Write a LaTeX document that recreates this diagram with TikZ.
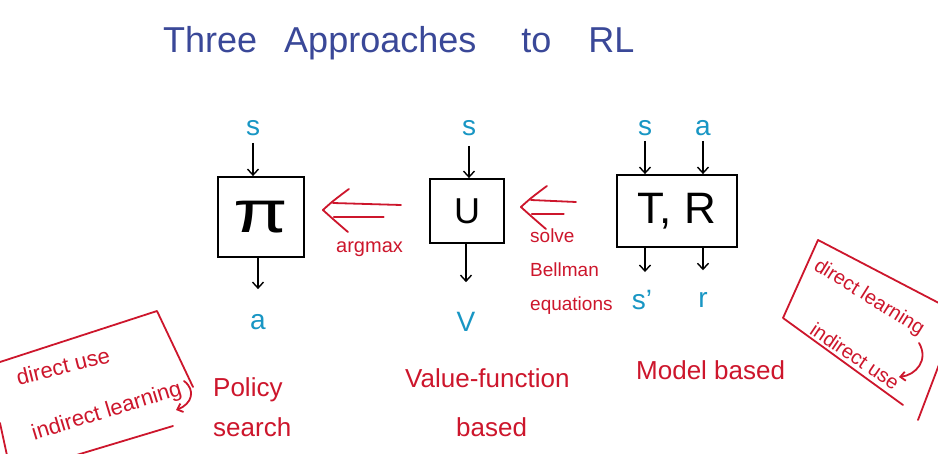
\documentclass[tikz,border=0pt]{standalone}
\usepackage{fontspec}
\setmainfont{Liberation Sans}
\usetikzlibrary{arrows.meta,calc}
\definecolor{titleblue}{RGB}{58,72,152}
\definecolor{inkred}{RGB}{205,22,44}
\definecolor{inkcyan}{RGB}{24,150,196}
% hand-drawn style double arrow: #1 tip coordinate, #2 length
\newcommand\redimplies[2]{%
  \draw[redink] ($(#1)+(26,-21)$) .. controls ($(#1)+(10,-9)$) .. (#1)
     .. controls ($(#1)+(10,9)$) .. ($(#1)+(25,22)$);
  \draw[redink] ($(#1)+(10,-7)$) -- ($(#1)+(#2,-5)$);
  \draw[redink] ($(#1)+(11,7)$) -- ($(#1)+(#2*0.78,7)$);
}
\begin{document}
\begin{tikzpicture}[x=1pt,y=-1pt,
  box/.style={draw=black,line width=1.8pt,inner sep=0pt},
  cyanlab/.style={text=inkcyan,font=\fontsize{28}{28}\selectfont,inner sep=0pt},
  redlab/.style={text=inkred,font=\fontsize{26}{30}\selectfont,inner sep=0pt,anchor=base west},
  boxtxt/.style={text=inkred,font=\fontsize{22}{26}\selectfont,inner sep=0pt},
  flow/.style={draw=black,line width=1.4pt,-{Straight Barb[length=6pt,width=11pt]}},
  redink/.style={draw=inkred,line width=1.8pt,line cap=round,line join=round},
]
\useasboundingbox (0,0) rectangle (938,454);
\fill[white] (0,0) rectangle (938,454);

% title
\node[anchor=base west,inner sep=0pt,text=titleblue,font=\fontsize{36}{40}\selectfont] (title) at (163,53)
  {Three\hspace{27pt}Approaches\hspace{45pt}to\hspace{37pt}RL};

% boxes
\node[box,minimum width=86pt,minimum height=80pt] (pibox) at (261,217)
  {\fontsize{44}{44}\selectfont\scalebox{1.8}[1.35]{π}};
\node[box,minimum width=74pt,minimum height=64pt,font=\fontsize{36}{36}\selectfont] (ubox) at (467,211) {U};
\node[box,minimum width=120pt,minimum height=72pt,font=\fontsize{44}{44}\selectfont] (mbox) at (677,211) {T, R};

% cyan labels
\node[cyanlab] (s1) at (253,128) {s};
\node[cyanlab] (a1) at (258,322) {a};
\node[cyanlab] (s2) at (469,128) {s};
\node[cyanlab] (v2) at (466,322) {V};
\node[cyanlab] (s3) at (645,128) {s};
\node[cyanlab] (a3) at (703,128) {a};
\node[cyanlab] (sp3) at (642,300) {s'};
\node[cyanlab] (r3) at (703,300) {r};

% black arrows
\draw[flow,shorten <=7pt] (s1) -- (s1 |- pibox.north);
\draw[flow,shorten >=25pt] (pibox.south -| a1) -- (a1);
\draw[flow,shorten <=10pt] (s2) -- (s2 |- ubox.north);
\draw[flow,shorten >=30pt] (ubox.south -| v2) -- (v2);
\draw[flow,shorten <=5pt] (s3) -- (s3 |- mbox.north);
\draw[flow,shorten <=5pt] (a3) -- (a3 |- mbox.north);
\draw[flow,shorten >=18pt] (mbox.south -| s3) -- (s3 |- sp3.north);
\draw[flow,shorten >=22pt] (mbox.south -| r3) -- (r3);

% red double arrows (from U to pi, from T,R to U)
\coordinate (tipA) at ($(pibox.east)+(18,-7)$);
\coordinate (tipB) at ($(ubox.east)+(16,-4)$);
\redimplies{tipA}{78}
\redimplies{tipB}{55}

% red annotations
\node[anchor=base west,inner sep=0pt,text=inkred,font=\fontsize{20}{24}\selectfont] (argmax) at (336,253) {argmax};
\node[anchor=north west,align=left,inner sep=0pt,text=inkred,font=\fontsize{19}{34}\selectfont] (bell) at (530,229)
  {solve\\Bellman\\equations};

\node[redlab] (pol1) at (213,397) {Policy};
\node[redlab] (pol2) at (213,437) {search};
\node[redlab] (vf1) at (405,388) {Value-function};
\node[redlab] (vf2) at (456,437) {based};
\node[redlab] (mb) at (636,380) {Model based};

% left rotated box
\draw[redink] (0,362) -- (157,311) -- (193,387);
\draw[redink] (173,426) -- (40,466);
\draw[redink] (0,423) -- (8,460);
\node[boxtxt,rotate=14] (l1) at (63,366) {direct use};
\node[boxtxt,rotate=17] (l2) at (107,412) {indirect learning};
\coordinate (lc1) at (184,381);
\coordinate (lc2) at (176,410);
\draw[redink,-{Straight Barb[length=5pt,width=9pt]}] (lc1) .. controls (196,390) and (192,404) .. (lc2);

% right rotated box
\draw[redink] (903,405) -- (783,318) -- (818,240) -- (958,313);
\draw[redink] (940,362) -- (918,420);
\node[boxtxt,rotate=-32,font=\fontsize{20}{24}\selectfont] (r1) at (869,298) {direct learning};
\node[boxtxt,rotate=-34,font=\fontsize{20}{24}\selectfont] (r2) at (855,356) {indirect use};
\coordinate (rc1) at (919,343);
\coordinate (rc2) at (899,377);
\draw[redink,-{Straight Barb[length=5pt,width=9pt]}] (rc1) .. controls (929,360) and (916,375) .. (rc2);
\end{tikzpicture}
\end{document}
